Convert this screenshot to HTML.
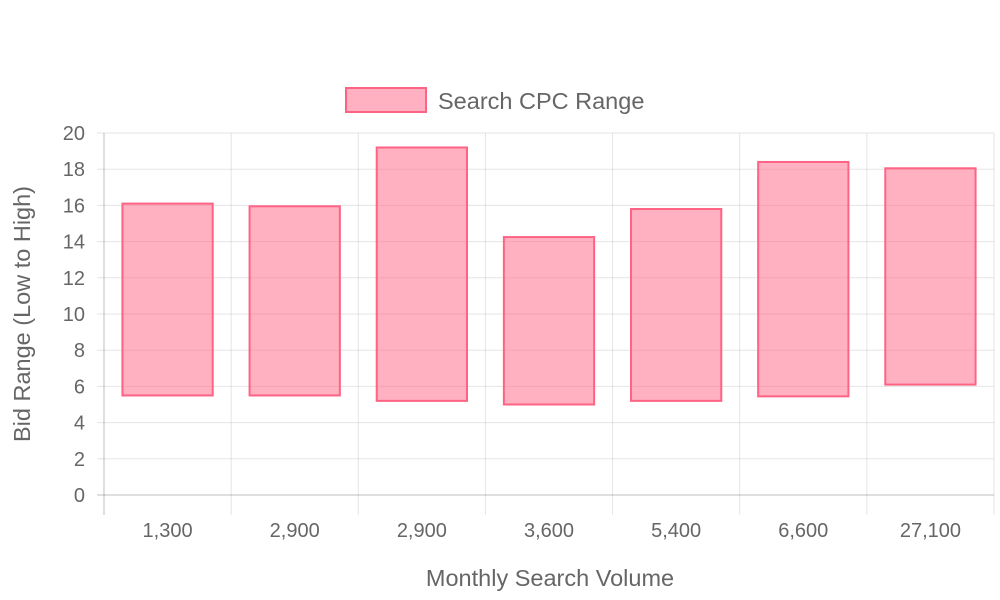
<!DOCTYPE html>
<html>
<head>
<meta charset="utf-8">
<style>
html,body{margin:0;padding:0;background:#fff;}
svg{display:block;font-family:"Liberation Sans",sans-serif;}
</style>
</head>
<body>
<svg id="chart" width="1000" height="600" viewBox="0 0 1000 600">
  <g id="grid"></g>
  <g id="bars"></g>
  <g id="axes"></g>
  <g>
    <rect x="346" y="88" width="80" height="24" fill="rgba(255,99,132,0.5)" stroke="rgb(255,99,132)" stroke-width="2"></rect>
    <text x="438" y="109" font-size="23.5" fill="#666">Search CPC Range</text>
  </g>
  <text x="550" y="586" font-size="23.5" fill="#666" text-anchor="middle">Monthly Search Volume</text>
  <text transform="translate(30,314) rotate(-90)" font-size="23.5" fill="#666" text-anchor="middle">Bid Range (Low to High)</text>
</svg>
<script>
const categories = ["1,300","2,900","2,900","3,600","5,400","6,600","27,100"];
const lowValues = [5.5, 5.5, 5.2, 5.0, 5.2, 5.45, 6.1];
const highValues = [16.1, 15.95, 19.2, 14.25, 15.8, 18.4, 18.05];
const yTicks = [0,2,4,6,8,10,12,14,16,18,20];

const NS = "http://www.w3.org/2000/svg";
const plotLeft = 104, plotRight = 994, plotTop = 133, plotBottom = 495;
const yMin = 0, yMax = 20;
const yScale = v => plotBottom - (v - yMin) / (yMax - yMin) * (plotBottom - plotTop);
const band = (plotRight - plotLeft) / categories.length;
const xCenter = i => plotLeft + band * (i + 0.5);
const barW = band * 0.71;

function mk(tag, attrs, parent) {
  const el = document.createElementNS(NS, tag);
  for (const k in attrs) el.setAttribute(k, attrs[k]);
  parent.appendChild(el);
  return el;
}
const gridG = document.getElementById("grid");
const barsG = document.getElementById("bars");
const axesG = document.getElementById("axes");

yTicks.forEach(t => {
  const y = yScale(t);
  const ln = mk("line", {x1: 97, x2: plotRight, y1: y, y2: y, stroke: t === 0 ? "rgba(0,0,0,0.25)" : "rgba(0,0,0,0.1)", "stroke-width": 1}, gridG);
  
  
  const tx = mk("text", {x: 85, y: y + 7, "font-size": 20, fill: "#666", "text-anchor": "end"}, axesG);
  tx.textContent = t;
  
  
});
for (let i = 0; i <= categories.length; i++) {
  const x = plotLeft + band * i;
  const ln = mk("line", {x1: x, x2: x, y1: plotTop, y2: 515, stroke: i === 0 ? "rgba(0,0,0,0.25)" : "rgba(0,0,0,0.1)", "stroke-width": 1}, gridG);
  
  
}
categories.forEach((c, i) => {
  const yT = yScale(highValues[i]), yB = yScale(lowValues[i]);
  const r = mk("rect", {x: xCenter(i) - barW / 2, y: yT, width: barW, height: yB - yT, fill: "rgba(255,99,132,0.5)", stroke: "rgb(255,99,132)", "stroke-width": 2}, barsG);
  
  
  const tx = mk("text", {x: xCenter(i), y: 537, "font-size": 20, fill: "#666", "text-anchor": "middle"}, axesG);
  tx.textContent = c;
  
  
});
</script>
</body>
</html>
